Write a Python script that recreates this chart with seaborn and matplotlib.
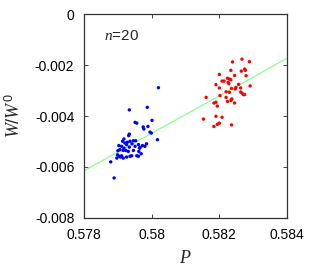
import numpy as np
import pandas as pd
import matplotlib
matplotlib.use("Agg")
import matplotlib.pyplot as plt
import seaborn as sns

# blue group (P, W/W0)
blue_p = [0.58020, 0.57934, 0.57987, 0.57951, 0.57956, 0.57975, 0.57977, 0.57989,
          0.58001, 0.57995, 0.57999, 0.58017, 0.57934, 0.57932, 0.57918, 0.57914,
          0.57921, 0.57928, 0.57936, 0.57946, 0.57953, 0.57903, 0.57911, 0.57918,
          0.57926, 0.57934, 0.57942, 0.57951, 0.57961, 0.57966, 0.57973, 0.57980,
          0.57985, 0.57900, 0.57906, 0.57916, 0.57924, 0.57931, 0.57946, 0.57964,
          0.57962, 0.57956, 0.57961, 0.57969, 0.57899, 0.57904, 0.57908, 0.57897,
          0.57911, 0.57916, 0.57926, 0.57936, 0.57941, 0.57879, 0.57889]
blue_w = [-0.00289, -0.00376, -0.00366, -0.00425, -0.00428, -0.00443, -0.00451, -0.00441,
          -0.00417, -0.00463, -0.00467, -0.00493, -0.00471, -0.00477, -0.00490, -0.00499,
          -0.00506, -0.00503, -0.00499, -0.00497, -0.00497, -0.00516, -0.00519, -0.00526,
          -0.00512, -0.00522, -0.00509, -0.00519, -0.00512, -0.00523, -0.00516, -0.00519,
          -0.00509, -0.00536, -0.00532, -0.00535, -0.00535, -0.00539, -0.00535, -0.00526,
          -0.00539, -0.00556, -0.00558, -0.00548, -0.00552, -0.00558, -0.00561, -0.00565,
          -0.00556, -0.00565, -0.00561, -0.00558, -0.00556, -0.00580, -0.00643]

# red group (P, W/W0)
red_p = [0.58267, 0.58289, 0.58239, 0.58234, 0.58275, 0.58277, 0.58265, 0.58200,
         0.58245, 0.58279, 0.58224, 0.58230, 0.58234, 0.58208, 0.58214, 0.58226,
         0.58228, 0.58190, 0.58257, 0.58291, 0.58249, 0.58247, 0.58236, 0.58200,
         0.58263, 0.58220, 0.58263, 0.58267, 0.58271, 0.58275, 0.58230, 0.58220,
         0.58237, 0.58234, 0.58202, 0.58161, 0.58224, 0.58245, 0.58190, 0.58184,
         0.58194, 0.58153, 0.58190, 0.58208, 0.58200, 0.58194, 0.58184, 0.58236]
red_w = [-0.00177, -0.00187, -0.00188, -0.00221, -0.00216, -0.00221, -0.00224, -0.00237,
         -0.00241, -0.00242, -0.00252, -0.00255, -0.00258, -0.00263, -0.00263, -0.00268,
         -0.00273, -0.00277, -0.00276, -0.00282, -0.00288, -0.00294, -0.00292, -0.00290,
         -0.00290, -0.00305, -0.00306, -0.00310, -0.00316, -0.00316, -0.00307, -0.00327,
         -0.00333, -0.00339, -0.00320, -0.00327, -0.00343, -0.00349, -0.00346, -0.00349,
         -0.00361, -0.00412, -0.00401, -0.00405, -0.00428, -0.00433, -0.00441, -0.00435]

xticks = [0.578, 0.58, 0.582, 0.584]
xticklabels = ["0.578", "0.58", "0.582", "0.584"]
yticks = [-0.008, -0.006, -0.004, -0.002, 0]
yticklabels = ["-0.008", "-0.006", "-0.004", "-0.002", "0"]

df = pd.DataFrame({
    "P": blue_p + red_p,
    "W": blue_w + red_w,
    "group": ["blue"] * len(blue_p) + ["red"] * len(red_p),
})

sns.set_style("ticks")
plt.rcParams["font.family"] = ["Liberation Sans", "DejaVu Sans"]
plt.rcParams["mathtext.fontset"] = "custom"
plt.rcParams["mathtext.it"] = "Liberation Serif:italic"
plt.rcParams["mathtext.rm"] = "Liberation Sans"

fig = plt.figure(figsize=(3.16, 2.71), dpi=100)
ax = fig.add_axes([0.2658, 0.1956, 0.6424, 0.7527])
ax.set_xlim(0.578, 0.584)
ax.set_ylim(-0.008, 0)

# least-squares fit over both groups, drawn across the full x range
sns.regplot(data=df, x="P", y="W", scatter=False, ci=None, truncate=False,
            color="#80ff80", line_kws={"lw": 0.8}, ax=ax)
sns.scatterplot(data=df, x="P", y="W", hue="group",
                palette={"blue": "#0000ff", "red": "#ff0000"},
                s=6, linewidth=0, legend=False, ax=ax, zorder=3)

ax.set_xlim(0.578, 0.584)
ax.set_ylim(-0.008, 0)
ax.set_xticks(xticks)
ax.set_xticklabels(xticklabels)
ax.set_yticks(yticks)
ax.set_yticklabels(yticklabels)
ax.tick_params(direction="in", length=3, width=0.6, labelsize=10, pad=7,
               top=True, right=True, colors="#222222", labelcolor="black")
for sp in ax.spines.values():
    sp.set_linewidth(0.9)
    sp.set_color("#333333")

ax.set_xlabel(r"$P$", fontsize=13, labelpad=6)
ax.set_ylabel(r"$W/W^{\mathrm{0}}$", fontsize=13, labelpad=8)
ax.text(0.098, 0.873, r"$n$=20", transform=ax.transAxes, fontsize=11,
        va="baseline", ha="left")

fig.savefig("out.png", dpi=100)
